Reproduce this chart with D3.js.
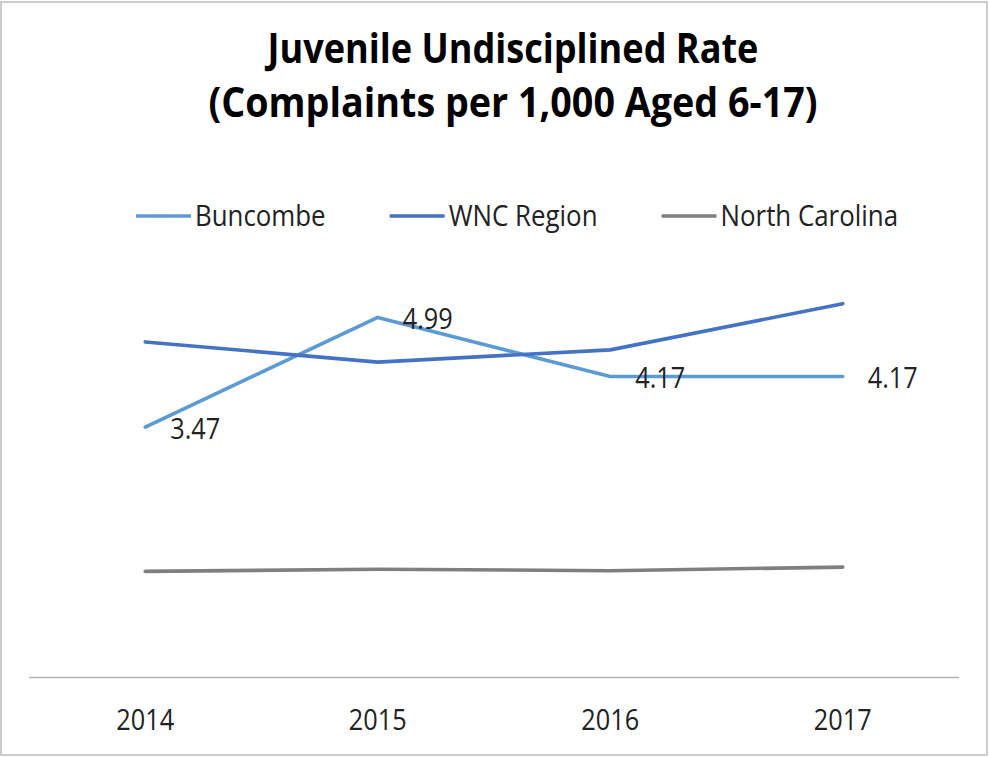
<!DOCTYPE html>
<meta charset="utf-8">
<html lang="en">
<head>
    <title>Juvenile Undisciplined Rate</title>
    <script src="https://d3js.org/d3.v7.min.js"></script>
    <style>
        body { margin: 0; background: #fff; }
        text { font-family: "Open Sans", "Noto Sans", sans-serif; }
    </style>
</head>
<body>
<div id="chart"></div>
<script>

    // data
    var years = ["2014", "2015", "2016", "2017"];
    var buncombe = [3.47, 4.99, 4.17, 4.17];
    var wncRegion = [4.65, 4.37, 4.54, 5.18];
    var northCarolina = [1.47, 1.50, 1.48, 1.53];
    var seriesNames = ["Buncombe", "WNC Region", "North Carolina"];
    var seriesColors = ["#5B9BD5", "#4472C4", "#7F7F7F"];
    var titleLines = ["Juvenile Undisciplined Rate", "(Complaints per 1,000 Aged 6-17)"];

    var series = [buncombe, wncRegion, northCarolina].map(function (vals, i) {
        return { name: seriesNames[i], color: seriesColors[i], values: vals };
    });

    var width = 989, height = 757;
    var squeeze = 0.86;   // the original text is a bit narrow

    var svg = d3.select("#chart")
        .append("svg")
        .attr("width", width)
        .attr("height", height);

    // chart border
    svg.append("rect")
        .attr("x", 1).attr("y", 2)
        .attr("width", 986).attr("height", 753)
        .attr("fill", "#fff")
        .attr("stroke", "#bdbdbd")
        .attr("stroke-width", 1.5);

    // helper: text squeezed horizontally round its anchor point
    function label(parent, x, y, str, size, weight, anchor, sx) {
        return parent.append("g")
            .attr("transform", "translate(" + x + "," + y + ") scale(" + (sx || squeeze) + ",1)")
            .append("text")
            .attr("text-anchor", anchor || "start")
            .attr("font-size", size)
            .attr("font-weight", weight || "normal")
            .attr("fill", weight === "bold" ? "#000" : "#222")
            .text(str);
    }

    // title
    label(svg, 513, 63, titleLines[0], 41, "bold", "middle", 0.88);
    label(svg, 513, 117, titleLines[1], 41, "bold", "middle", 0.92);

    // scales
    var x = d3.scaleBand()
        .domain(years)
        .range([29, 959]);

    var y = d3.scaleLinear()
        .domain([0, 6])
        .range([677.5, 244.5]);

    var cx = function (d, i) { return x(years[i]) + x.bandwidth() / 2; };

    // x axis line
    svg.append("line")
        .attr("x1", x.range()[0]).attr("x2", x.range()[1])
        .attr("y1", y(0)).attr("y2", y(0))
        .attr("stroke", "#b4b4b4")
        .attr("stroke-width", 1.3);

    // year labels
    years.forEach(function (yr, i) {
        label(svg, cx(null, i), 730, yr, 29.4, "normal", "middle");
    });

    // lines
    var line = d3.line()
        .x(cx)
        .y(function (d) { return y(d); });

    svg.append("g")
        .selectAll("path")
        .data(series)
        .enter()
        .append("path")
        .attr("d", function (s) { return line(s.values); })
        .attr("fill", "none")
        .attr("stroke", function (s) { return s.color; })
        .attr("stroke-width", 3.6)
        .attr("stroke-linejoin", "round")
        .attr("stroke-linecap", "round");

    // data labels for Buncombe, right of each point
    buncombe.forEach(function (v, i) {
        label(svg, cx(null, i) + 25, y(v) + 11.5, v.toFixed(2), 29.4);
    });

    // legend
    var legend = svg.append("g");
    var lx = 0;
    series.forEach(function (s) {
        legend.append("line")
            .attr("x1", lx).attr("x2", lx + 55)
            .attr("y1", 216).attr("y2", 216)
            .attr("stroke", s.color)
            .attr("stroke-width", 3.4);
        var t = label(legend, lx + 59, 226, s.name, 29.4, "normal", "start", 0.88);
        lx += 59 + t.node().getComputedTextLength() * 0.88 + 64;
    });
    var legendWidth = lx - 64;
    legend.attr("transform", "translate(" + (517 - legendWidth / 2) + ",0)");

</script>
</body>
</html>
